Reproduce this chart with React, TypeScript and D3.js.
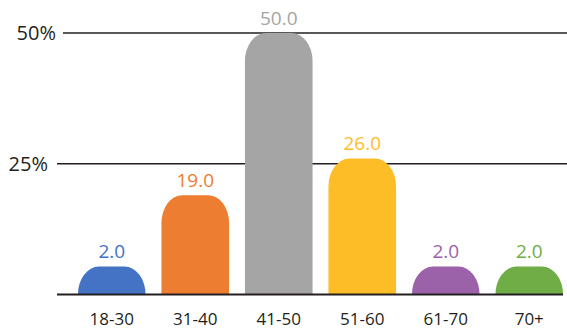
import React from "react";
import * as d3 from "d3";

const categories = ["18-30", "31-40", "41-50", "51-60", "61-70", "70+"];
const values = [2.0, 19.0, 50.0, 26.0, 2.0, 2.0];
const colors = ["#4472c4", "#ed7d31", "#a5a5a5", "#fdbd27", "#9b62aa", "#70ad47"];
const tickValues = [25, 50];
const tickLabels = ["25%", "50%"];

const W = 567;
const H = 329;
const FONT = "'Open Sans', 'Noto Sans', sans-serif";
const INK = "#231f20";

function barPath(x0: number, x1: number, yTop: number, yBase: number, rx: number, ryMax: number) {
  const h = yBase - yTop;
  const ry = Math.min(ryMax, h);
  const r = Math.min(rx, (x1 - x0) / 2);
  return [
    `M${x0},${yBase}`,
    `L${x0},${yTop + ry}`,
    `A${r},${ry} 0 0 1 ${x0 + r},${yTop}`,
    `L${x1 - r},${yTop}`,
    `A${r},${ry} 0 0 1 ${x1},${yTop + ry}`,
    `L${x1},${yBase}`,
    "Z",
  ].join(" ");
}

export default function App() {
  const x = d3.scaleBand<string>().domain(categories).range([70, 571]).paddingInner(0.19).paddingOuter(0.095);
  const y = d3.scaleLinear().domain([0, 50]).range([294.5, 33]);
  const minH = 28;
  const base = y(0);

  const gridStart: Record<number, number> = { 25: 57, 50: 63 };
  const labelEnd: Record<number, number> = { 25: 48, 50: 56 };

  return (
    <svg width={W} height={H} style={{ position: "absolute", left: 0, top: 0, display: "block" }}>
      <rect width={W} height={H} fill="#fff" />
      {tickValues.map((t, i) => (
        <g key={t}>
          <line x1={gridStart[t]} x2={W} y1={y(t)} y2={y(t)} stroke={INK} strokeWidth={1.4} />
          <text x={labelEnd[t]} y={y(t) + 7} textAnchor="end" fontFamily={FONT} fontSize={20} fill={INK}>
            {tickLabels[i]}
          </text>
        </g>
      ))}
      {categories.map((c, i) => {
        const x0 = x(c) as number;
        const x1 = x0 + x.bandwidth();
        const top = Math.min(y(values[i]), base - minH);
        return (
          <g key={c}>
            <path d={barPath(x0, x1, top, base, 21, 28)} fill={colors[i]} />
            <text
              x={x0 + x.bandwidth() / 2}
              y={top - 8.5}
              textAnchor="middle"
              fontFamily={FONT}
              fontSize={19}
              fill={colors[i]}
            >
              {values[i].toFixed(1)}
            </text>
            <text
              x={x0 + x.bandwidth() / 2}
              y={324.5}
              textAnchor="middle"
              fontFamily={FONT}
              fontSize={17}
              fill={INK}
            >
              {c}
            </text>
          </g>
        );
      })}
      <line x1={57} x2={563} y1={base} y2={base} stroke={INK} strokeWidth={2} />
    </svg>
  );
}
